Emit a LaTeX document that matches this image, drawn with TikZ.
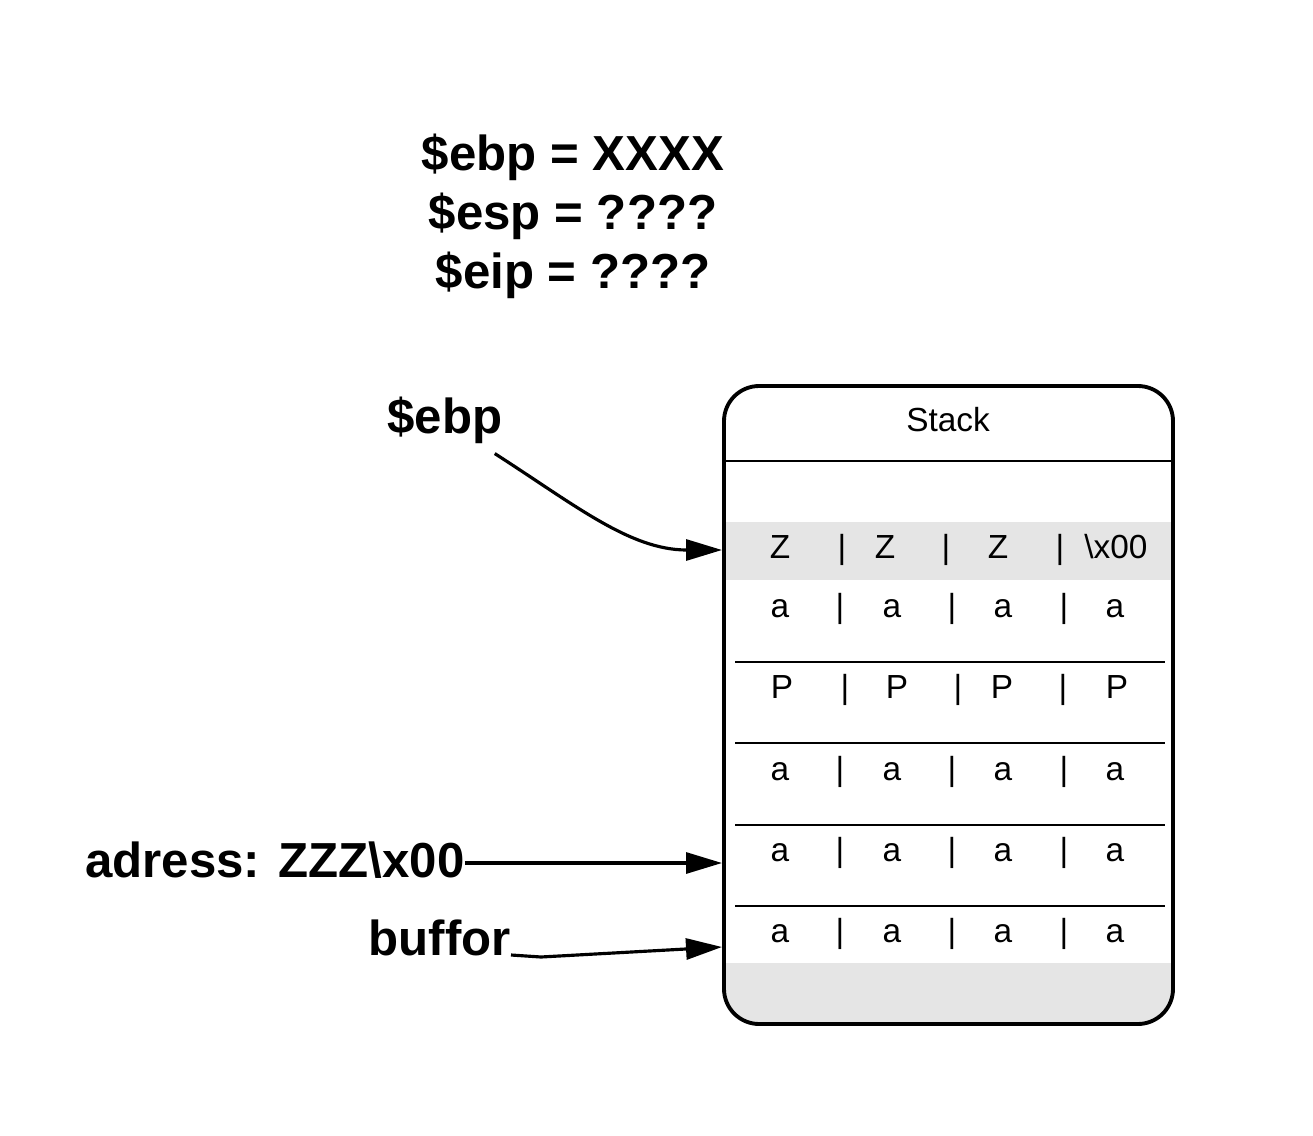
\documentclass[tikz,border=0pt]{standalone}
\usepackage{fontspec}
\setmainfont{Liberation Sans}
\usetikzlibrary{arrows.meta}

\definecolor{bandgray}{HTML}{E5E5E5}

\begin{document}
\begin{tikzpicture}[x=0.02cm,y=-0.02cm,
  big/.style={font=\fontsize{28}{34}\selectfont\bfseries,inner sep=0pt},
  cell/.style={font=\fontsize{19}{22}\selectfont,inner sep=0pt,anchor=base},
  ptr/.style={line width=1.8pt,-{Triangle[length=0.72cm,width=0.42cm]}},
  sep/.style={line width=1.2pt}]

\useasboundingbox (0,0) rectangle (1313,1136);

% registers
\node[big,anchor=base] (regebp) at (573,170) {\$ebp = XXXX};
\node[big,anchor=base] (regesp) at (573,229) {\$esp = ????};
\node[big,anchor=base] (regeip) at (573,288) {\$eip = ????};

% stack frame
\fill[bandgray] (725,522) rectangle (1172,580);
\begin{scope}
\clip[rounded corners=20] (724,386) rectangle (1173,1024);
\fill[bandgray] (724,963) rectangle (1173,1024);
\end{scope}
\draw[line width=2.2pt,rounded corners=20] (724,386) rectangle (1173,1024);
\draw[line width=1.7pt] (724,461) -- (1173,461);
\node[cell] (title) at (948,431) {Stack};

% rows
\foreach \x/\t [count=\i] in {780/Z,842/|,885/Z,946/|,998/Z,1060/|,1116/{\textbackslash x00}}
  \node[cell] (z\i) at (\x,558) {\t};
\foreach \x/\t [count=\i] in {782/P,845/|,897/P,958/|,1002/P,1063/|,1117/P}
  \node[cell] (p\i) at (\x,698) {\t};
\foreach \y [count=\r] in {617,780,861,942}
  \foreach \x/\t [count=\i] in {780/a,840/|,892/a,952/|,1003/a,1064/|,1115/a}
    \node[cell] (a\r-\i) at (\x,\y) {\t};
\foreach \y in {662,743,825,906}
  \draw[sep] (735,\y) -- (1165,\y);

% pointers
\node[big,anchor=base] (ebp) at (445,433) {\$ebp};
\node[big,anchor=base west] (adr) at (85,877) {adress: ZZZ\textbackslash x00};
\node[big,anchor=base east] (buf) at (511,955) {buffor};

\coordinate (ebpslot) at (722,550);
\coordinate (adrslot) at (722,863);
\coordinate (bufslot) at (722,947);

\draw[ptr] ([shift={(-8,10)}]ebp.south east) .. controls (575,505) and (630,550) .. (ebpslot);
\draw[ptr] (adr.east |- adrslot) -- (adrslot);
\draw[ptr] (buf.base east) -- ++(30,2) -- (bufslot);

\end{tikzpicture}
\end{document}
